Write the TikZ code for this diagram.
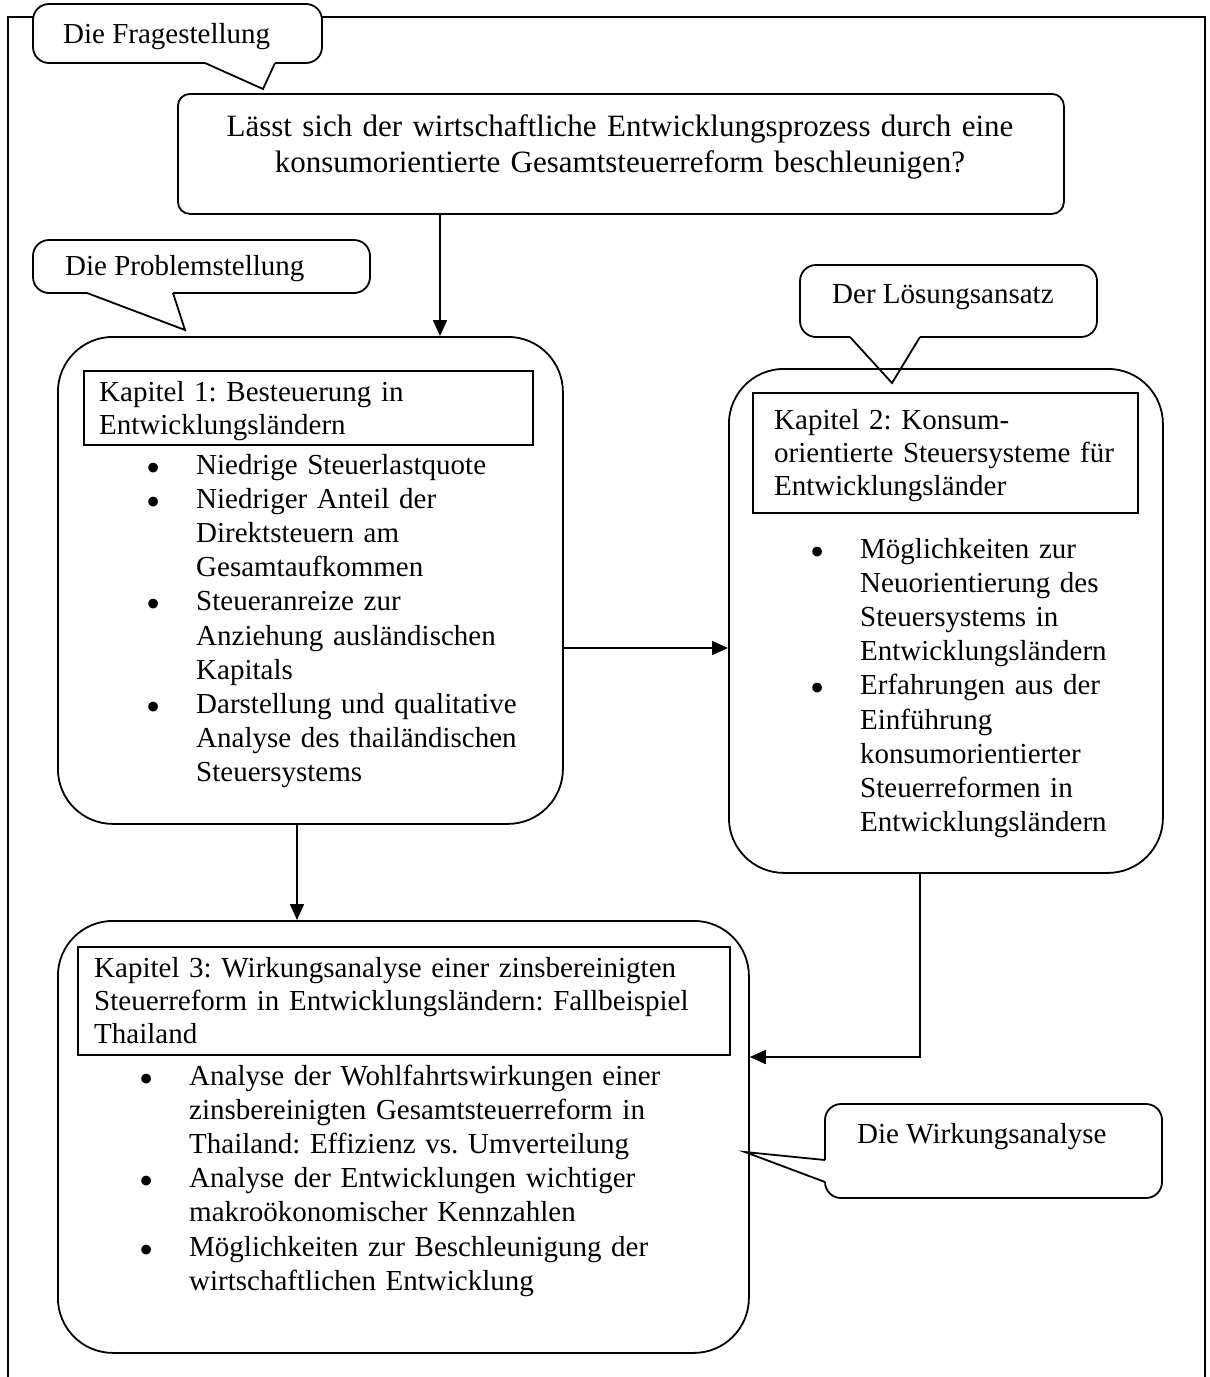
\documentclass[tikz,border=0pt]{standalone}
\usepackage{fontspec}
\setmainfont{Liberation Serif}
\usetikzlibrary{arrows.meta}

% Aufzaehlungspunkt mit haengendem Einzug
\newcommand\punkt[1]{\hangindent=43pt\hangafter=0\noindent\llap{\raisebox{-7pt}{\scalebox{1.4}{\textbullet}}\hspace{35pt}}#1\par}

\tikzset{
  rahmen/.style={line width=1.8pt},
  kapitel/.style={draw, line width=1.8pt, rounded corners=55pt, anchor=north west, inner sep=0pt},
  titel/.style={draw, line width=1.8pt, anchor=north west, inner sep=0pt},
  frage/.style={draw, line width=1.8pt, rounded corners=12pt, anchor=north west, inner sep=0pt},
  blase/.style={fill=white, draw, line width=1.8pt},
  pfeil/.style={line width=1.6pt, -{Triangle[length=16pt,width=14pt]}},
  zeile/.style={anchor=base west, inner sep=0pt, font=\fontsize{29}{34}\selectfont},
  titelzeilen/.style={anchor=base west, inner sep=0pt, font=\fontsize{29}{33}\selectfont},
  liste/.style={anchor=base west, inner sep=0pt, font=\fontsize{29}{34.2}\selectfont},
}

\begin{document}
\frenchspacing
\begin{tikzpicture}[x=1pt, y=-1pt]
  \useasboundingbox (0,0) rectangle (1210,1377);

  % Rahmen (unten offen)
  \draw[rahmen] (8,1377) -- (8,17) -- (1205,17) -- (1205,1377);

  % Sprechblasen
  \filldraw[blase, rounded corners=16pt] (275,63) -- (322,63) -- (322,4) -- (33,4) -- (33,63) -- (205,63);
  \filldraw[blase] (205,63) -- (263,89) -- (275,63);
  \node[zeile] (blaseFrage) at (63,43) {Die Fragestellung};

  \filldraw[blase, rounded corners=16pt] (173,293) -- (370,293) -- (370,240) -- (33,240) -- (33,293) -- (87,293);
  \filldraw[blase] (87,293) -- (185,330) -- (173,293);
  \node[zeile] (blaseProblem) at (65,275) {Die Problemstellung};

  \filldraw[blase, rounded corners=16pt] (920,337) -- (1097,337) -- (1097,265) -- (800,265) -- (800,337) -- (850,337);
  \filldraw[blase] (850,337) -- (892,383) -- (920,337);
  \node[zeile] (blaseLoesung) at (832,303) {Der Lösungsansatz};

  \filldraw[blase, rounded corners=16pt] (825,1160) -- (825,1104) -- (1162,1104) -- (1162,1198) -- (825,1198) -- (825,1182);
  \filldraw[blase] (825,1182) -- (745,1152) -- (825,1160);
  \node[zeile] (blaseWirkung) at (857,1143) {Die Wirkungsanalyse};

  % Fragestellung
  \node[frage, minimum width=886pt, minimum height=120pt] (frage) at (177,93) {};
  \node[anchor=base, inner sep=0pt, text width=880pt, align=center,
        font=\fontsize{31}{36}\selectfont] (frageText) at (620,136)
    {Lässt sich der wirtschaftliche Entwicklungsprozess durch eine\\
     konsumorientierte Gesamtsteuerreform beschleunigen?};

  % Kapitel 1
  \node[kapitel, minimum width=505pt, minimum height=487pt] (kap1) at (57,336) {};
  \node[titel, minimum width=449pt, minimum height=74pt] (titel1) at (83,370) {};
  \node[titelzeilen, text width=420pt] (titel1Text) at (99,401) {Kapitel 1: Besteuerung in\\Entwicklungsländern};
  \node[liste, text width=400pt] (liste1) at (153,474) {%
    \punkt{Niedrige Steuerlastquote}%
    \punkt{Niedriger Anteil der\newline Direktsteuern am\newline Gesamtaufkommen}%
    \punkt{Steueranreize zur\newline Anziehung ausländischen\newline Kapitals}%
    \punkt{Darstellung und qualitative\newline Analyse des thailändischen\newline Steuersystems}};

  % Kapitel 2
  \node[kapitel, minimum width=434pt, minimum height=504pt] (kap2) at (728,368) {};
  \node[titel, minimum width=385pt, minimum height=120pt] (titel2) at (752,392) {};
  \node[titelzeilen, text width=360pt] (titel2Text) at (774,429) {Kapitel 2: Konsum-\\orientierte Steuersysteme für\\Entwicklungsländer};
  \node[liste, text width=320pt] (liste2) at (817,558) {%
    \punkt{Möglichkeiten zur\newline Neuorientierung des\newline Steuersystems in\newline Entwicklungsländern}%
    \punkt{Erfahrungen aus der\newline Einführung\newline konsumorientierter\newline Steuerreformen in\newline Entwicklungsländern}};

  % Kapitel 3
  \node[kapitel, minimum width=691pt, minimum height=432pt] (kap3) at (57,920) {};
  \node[titel, minimum width=652pt, minimum height=108pt] (titel3) at (77,946) {};
  \node[titelzeilen, text width=630pt] (titel3Text) at (94,977) {Kapitel 3: Wirkungsanalyse einer zinsbereinigten\\Steuerreform in Entwicklungsländern: Fallbeispiel\\Thailand};
  \node[liste, text width=560pt] (liste3) at (146,1085) {%
    \punkt{Analyse der Wohlfahrtswirkungen einer\newline zinsbereinigten Gesamtsteuerreform in\newline Thailand: Effizienz vs. Umverteilung}%
    \punkt{Analyse der Entwicklungen wichtiger\newline makroökonomischer Kennzahlen}%
    \punkt{Möglichkeiten zur Beschleunigung der\newline wirtschaftlichen Entwicklung}};

  % Verbindungen
  \coordinate (x1) at (440,0);
  \coordinate (y2) at (0,648);
  \coordinate (x3) at (297,0);
  \coordinate (x4) at (920,0);
  \coordinate (y4) at (0,1057);
  \draw[pfeil] (frage.south -| x1) -- (kap1.north -| x1);
  \draw[pfeil] (kap1.east |- y2) -- (kap2.west |- y2);
  \draw[pfeil] (kap1.south -| x3) -- (kap3.north -| x3);
  \draw[pfeil] (kap2.south -| x4) |- (kap3.east |- y4);
\end{tikzpicture}
\end{document}
